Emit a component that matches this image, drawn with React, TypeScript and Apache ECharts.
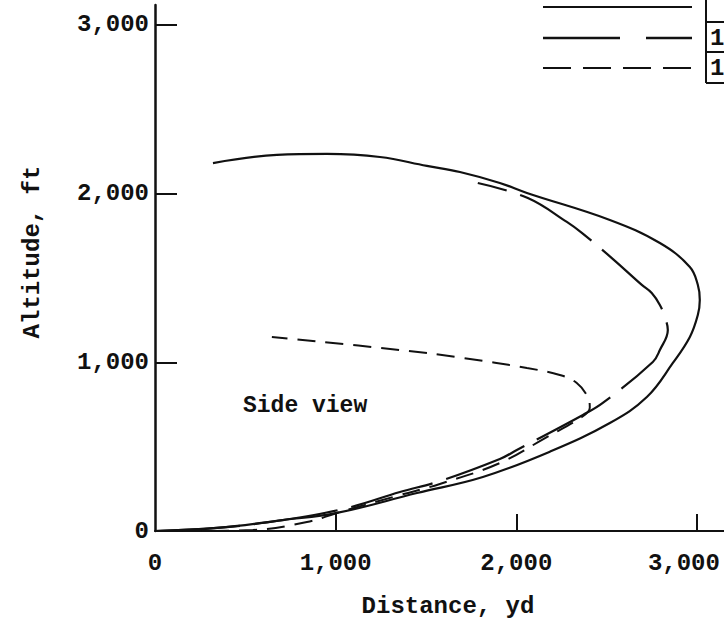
import { useEffect, useRef } from 'react';
import * as echarts from 'echarts';

// Tick values
const xTickValues = [0, 1000, 2000, 3000];
const yTickValues = [0, 1000, 2000, 3000];

// Solid curve (distance yd, altitude ft)
const solidDistance = [0, 343, 708, 1007, 1450, 1815, 2186, 2518, 2723, 2867, 2961, 3005, 3016, 3005, 2961, 2795, 2518, 2059, 1909, 1688, 1505, 1245, 952, 675, 321];
const solidAltitude = [0, 18, 65, 107, 225, 320, 470, 640, 794, 996, 1150, 1280, 1370, 1460, 1565, 1707, 1844, 2004, 2063, 2128, 2164, 2217, 2235, 2229, 2181];

// Long-dash curve
const longDistance = [0, 343, 708, 1062, 1356, 1577, 1909, 2003, 2369, 2479, 2756, 2795, 2839, 2822, 2795, 2750, 2695, 2529, 2363, 2280, 2064, 1787];
const longAltitude = [0, 18, 65, 136, 231, 296, 427, 480, 688, 759, 1002, 1073, 1192, 1269, 1340, 1411, 1459, 1618, 1767, 1832, 1974, 2063];

// Short-dash curve
const shortDistance = [0, 249, 542, 841, 1007, 1356, 1577, 1909, 2169, 2363, 2407, 2396, 2335, 2241, 2059, 1704, 1356, 647];
const shortAltitude = [0, 0, 6, 53, 107, 213, 279, 403, 557, 676, 730, 794, 877, 925, 966, 1026, 1073, 1150];

const FONT = '"Liberation Mono", "DejaVu Sans Mono", monospace';
const INK = '#111';

export default function App() {
  const ref = useRef<HTMLDivElement>(null);

  useEffect(() => {
    if (!ref.current) return;
    const chart = echarts.init(ref.current, undefined, { renderer: 'svg' });
    const zip = (xs: number[], ys: number[]) => xs.map((x, i) => [x, ys[i]]);
    const fmt = (v: number) => String(v).replace(/\B(?=(\d{3})+(?!\d))/g, ',');
    const textStyle = { fontFamily: FONT, fontSize: 24, fontWeight: 'bold', color: INK };

    chart.setOption({
      animation: false,
      backgroundColor: '#fff',
      grid: { left: 155, right: 0, top: 5, bottom: 95, containLabel: false, outerBoundsMode: 'none' },
      xAxis: {
        type: 'value',
        min: 0,
        max: 3150,
        splitLine: { show: false },
        axisLine: { show: true, lineStyle: { color: INK, width: 2 } },
        axisTick: { show: true, inside: true, length: 17, customValues: [1000, 2000, 3000], lineStyle: { color: INK, width: 2 } },
        axisLabel: {
          ...textStyle,
          margin: 20,
          customValues: xTickValues,
          formatter: (v: number) => (v === 3000 ? `{edge|${fmt(v)}}` : fmt(v)),
          rich: { edge: { ...textStyle, padding: [0, 26, 0, 0] } },
          showMaxLabel: true,
          hideOverlap: false,
        },
      },
      yAxis: {
        type: 'value',
        min: 0,
        max: 3118,
        splitLine: { show: false },
        axisLine: { show: true, lineStyle: { color: INK, width: 2.5 } },
        axisTick: { show: true, inside: true, length: 22, customValues: yTickValues, lineStyle: { color: INK, width: 2 } },
        axisLabel: { ...textStyle, margin: 6, customValues: yTickValues, formatter: fmt },
      },
      series: [
        {
          type: 'line',
          name: 'long',
          data: zip(longDistance, longAltitude),
          smooth: 0.4,
          symbol: 'none',
          lineStyle: { color: INK, width: 2.2, type: [85, 14] },
          z: 2,
        },
        {
          type: 'line',
          name: 'short',
          data: zip(shortDistance, shortAltitude),
          smooth: 0.4,
          symbol: 'none',
          lineStyle: { color: INK, width: 2, type: [18, 10] },
          z: 2,
        },
        {
          type: 'line',
          name: 'solid',
          data: zip(solidDistance, solidAltitude),
          smooth: 0.4,
          symbol: 'none',
          lineStyle: { color: INK, width: 2.2 },
          z: 3,
        },
      ],
      graphic: [
        {
          type: 'text',
          x: 32,
          y: 252,
          rotation: Math.PI / 2,
          style: { text: 'Altitude, ft', font: `bold 24px ${FONT}`, fill: INK, align: 'center', verticalAlign: 'middle' },
        },
        {
          type: 'text',
          x: 448,
          y: 606,
          style: { text: 'Distance, yd', font: `bold 24px ${FONT}`, fill: INK, align: 'center', verticalAlign: 'middle' },
        },
        {
          type: 'text',
          x: 243,
          y: 406,
          style: { text: 'Side view', font: `bold 23px ${FONT}`, fill: INK, align: 'left', verticalAlign: 'middle' },
        },
        // legend samples
        { type: 'line', shape: { x1: 543, y1: 7, x2: 692, y2: 7 }, style: { stroke: INK, lineWidth: 2.2 } },
        { type: 'line', shape: { x1: 543, y1: 38, x2: 692, y2: 38 }, style: { stroke: INK, lineWidth: 2.6, lineDash: [77, 26] } },
        { type: 'line', shape: { x1: 543, y1: 68, x2: 692, y2: 68 }, style: { stroke: INK, lineWidth: 2, lineDash: [28, 12] } },
        // legend box (cut off at right edge)
        { type: 'line', shape: { x1: 706, y1: 0, x2: 706, y2: 83 }, style: { stroke: INK, lineWidth: 2 } },
        { type: 'line', shape: { x1: 706, y1: 22, x2: 724, y2: 22 }, style: { stroke: INK, lineWidth: 2 } },
        { type: 'line', shape: { x1: 706, y1: 52, x2: 724, y2: 52 }, style: { stroke: INK, lineWidth: 2 } },
        { type: 'line', shape: { x1: 706, y1: 83, x2: 724, y2: 83 }, style: { stroke: INK, lineWidth: 2 } },
        { type: 'text', x: 710, y: 38, style: { text: '1', font: `bold 24px ${FONT}`, fill: INK, verticalAlign: 'middle' } },
        { type: 'text', x: 710, y: 68, style: { text: '1', font: `bold 24px ${FONT}`, fill: INK, verticalAlign: 'middle' } },
      ],
    });

    return () => chart.dispose();
  }, []);

  return <div ref={ref} style={{ position: 'fixed', left: 0, top: 0, width: 724, height: 626 }} />;
}
